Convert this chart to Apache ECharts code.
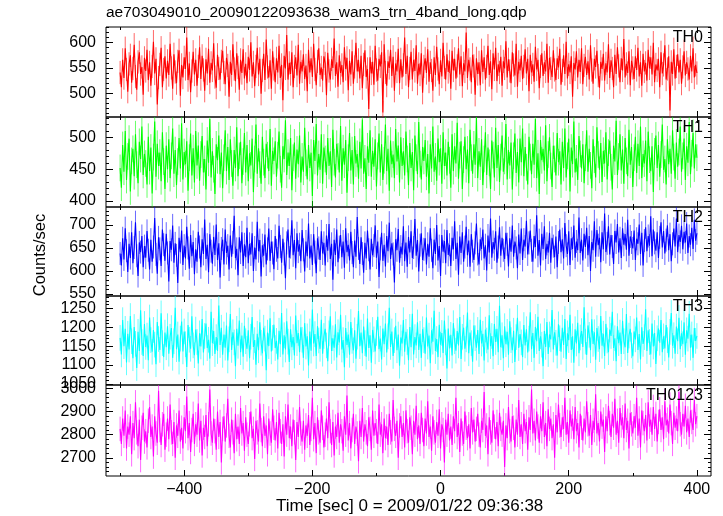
<!DOCTYPE html>
<html>
<head>
<meta charset="utf-8">
<script src="https://cdn.jsdelivr.net/npm/echarts@6/dist/echarts.min.js"></script>
<style>html,body{margin:0;padding:0;background:#fff;}#c{width:723px;height:516px;}</style>
</head>
<body>
<div id="c"></div>
<script>
// ---- data ----
const title = 'ae703049010_20090122093638_wam3_trn_4band_long.qdp';
const xLabel = 'Time [sec] 0 = 2009/01/22 09:36:38';
const yLabel = 'Counts/sec';
const bands = ['TH0', 'TH1', 'TH2', 'TH3', 'TH0123'];
const colors = ['#ff0000', '#00ff00', '#0000ff', '#00ffff', '#ff00ff'];
const timeStart = -500, timeStep = 2; // bin start and width (sec)
const errors = [23, 21, 25, 34, 53];   // typical 1-sigma error per band

const th0 = [
541,512,566,530,589,547,503,558,575,521,549,596,533,507,562,581,538,552,497,570,
544,586,526,561,515,553,602,539,568,478,531,557,590,512,547,573,529,564,536,598,
550,509,577,542,520,563,585,495,556,531,571,548,610,526,559,502,544,582,537,566,
515,553,591,528,574,546,505,567,539,588,521,560,545,599,532,511,576,549,527,563,
584,541,518,570,555,493,562,536,597,548,524,579,551,507,566,540,587,529,558,520,
572,546,601,533,561,514,553,590,537,568,499,545,578,526,606,552,531,565,509,583,
548,522,569,541,594,530,556,486,574,549,615,527,560,538,581,512,553,571,535,596,
519,562,543,577,528,555,504,586,541,569,532,598,547,516,563,589,536,551,525,573,
559,496,580,544,527,567,550,608,534,561,513,575,540,556,522,591,548,570,506,564,
537,583,519,552,600,543,566,529,574,510,557,585,532,548,469,571,539,562,517,594,
546,525,568,553,581,462,597,541,515,563,550,586,534,572,505,559,543,588,520,567,
531,556,610,538,574,512,549,582,527,566,544,595,519,558,537,579,501,553,569,540,
587,523,561,545,505,571,536,592,548,518,565,533,600,551,527,577,542,563,509,584,
545,568,529,554,589,537,573,514,559,543,620,530,566,548,522,576,554,497,569,538,
561,516,585,542,571,527,553,594,536,563,508,579,547,590,524,557,541,572,515,563,
549,603,531,567,544,520,581,556,535,598,513,562,545,574,528,553,587,539,568,504,
576,541,557,523,592,547,566,510,553,579,534,561,543,598,521,570,549,532,585,546,
526,569,551,588,517,545,575,538,602,529,557,541,573,493,560,547,583,531,566,542,
589,518,555,572,536,563,527,595,546,519,568,552,584,535,511,562,548,578,525,559,
541,597,530,565,549,512,576,538,591,554,522,569,545,607,531,558,540,583,516,564,
550,528,573,546,590,533,561,515,578,543,560,525,586,549,571,537,600,522,557,545,
568,512,581,539,556,595,527,548,573,466,562,538,587,529,553,577,541,566,519,552,
583,535,561,548,527,574,543,589,531,556,540];

const th1 = [
452,421,488,446,510,433,470,498,415,463,482,439,505,457,428,493,466,517,441,474,
459,426,501,447,484,412,469,525,438,490,455,476,431,508,462,419,487,450,497,436,
471,514,443,480,425,462,499,451,522,434,477,458,494,416,468,506,440,483,429,510,
456,487,432,473,502,445,466,418,495,460,529,437,478,450,411,489,464,503,442,476,
420,468,511,447,485,433,497,459,424,480,452,516,439,471,493,428,462,507,445,488,
431,475,456,498,414,466,520,443,483,457,427,501,461,436,490,472,447,513,424,479,
463,494,438,472,509,450,421,486,466,527,441,476,455,499,417,468,492,435,481,458,
503,429,470,446,515,460,434,488,452,476,408,496,463,521,440,474,449,505,427,484,
466,441,499,455,478,422,512,461,437,490,470,445,518,432,483,457,496,413,468,507,
448,480,426,502,459,474,435,493,451,528,443,467,419,486,460,511,438,479,454,497,
423,471,506,445,489,433,464,520,447,482,416,495,458,473,436,513,462,487,429,500,
455,478,440,509,466,425,491,452,477,417,503,468,442,524,458,434,485,463,496,438,
474,412,489,451,517,446,470,432,498,461,483,427,508,455,476,440,493,464,421,505,
447,486,459,523,435,472,494,419,465,501,450,481,428,512,468,443,489,457,531,436,
478,454,497,425,466,508,441,484,460,419,495,472,437,515,452,488,430,469,503,446,
463,521,434,480,456,492,418,471,506,444,477,429,498,461,514,439,485,453,426,501,
469,442,490,457,529,436,475,411,496,464,482,448,519,431,473,500,455,422,487,466,
440,507,461,478,426,493,452,514,437,471,498,415,484,458,525,445,467,433,502,474,
451,489,428,468,511,446,482,456,420,497,465,437,516,473,449,491,430,479,459,508,
434,476,495,453,418,487,462,526,441,470,505,448,481,427,499,463,439,512,457,485,
422,468,501,444,490,455,517,436,474,459,495,431,509,465,447,486,414,478,503,452,
488,438,473,520,449,466,426,497,458,482,443,511,469,435,492,454,477,517,446,471,
498,433,486,460,524,442,475,507,451,489,468];

const th2 = [
638,612,671,625,693,644,598,659,628,684,617,651,706,633,589,662,641,676,608,654,
629,687,645,603,668,620,652,715,636,594,673,648,611,690,657,622,681,639,577,665,
646,699,618,660,634,574,672,641,688,613,655,627,696,650,605,678,632,663,593,647,
620,685,652,608,669,637,712,626,657,597,680,643,616,674,635,701,624,660,586,649,
668,614,690,639,655,603,677,631,662,720,628,648,591,673,640,684,611,658,630,694,
617,659,636,682,600,651,625,707,643,667,588,656,633,679,614,648,692,622,664,639,
604,676,645,627,698,653,618,670,637,584,661,690,629,652,710,634,667,606,682,642,
658,621,689,646,599,664,632,703,627,655,613,680,641,595,671,650,624,686,638,661,
612,677,644,702,626,659,581,668,635,690,619,652,678,630,664,607,693,641,657,623,
685,640,608,666,631,717,649,615,673,638,596,661,627,688,646,603,670,634,655,699,
629,664,587,648,683,622,657,610,676,643,705,626,660,637,575,669,645,691,618,653,
636,697,621,662,609,674,640,686,628,651,713,633,667,599,656,682,624,647,671,614,
659,631,693,645,606,668,637,700,623,654,589,678,642,665,617,689,635,657,611,672,
647,708,626,661,592,675,639,684,620,652,696,634,666,609,680,643,624,661,703,637,
614,669,648,690,627,656,601,677,640,714,629,663,647,686,618,652,695,633,672,645,
626,683,658,610,671,642,699,631,664,650,606,679,638,692,624,668,653,709,636,661,
688,645,620,676,652,721,633,667,612,681,648,697,626,659,640,683,618,672,654,630,
675,608,662,690,641,669,627,704,655,637,686,613,671,648,699,629,664,645,716,639,
668,623,681,652,694,634,676,600,663,645,708,631,689,656,672,619,684,647,725,641,
660,697,636,678,653,615,687,662,702,640,671,628,693,657,680,646,711,633,675,662,
649,688,624,670,659,701,637,683,612,666,695,643,676,655,719,632,690,661,644,684,
628,673,706,651,687,638,667,699,645,680,621,659,692,653,714,641,678,663,698,647,
685,662,703,639,676,657,694,648,711,666,682];

const th3 = [
1172,1128,1219,1150,1196,1107,1183,1141,1230,1163,1118,1201,1156,1092,1188,1137,1245,1161,1124,1209,
1148,1178,1113,1226,1166,1135,1193,1154,1102,1214,1169,1140,1237,1158,1121,1186,1147,1203,1130,1175,
1198,1119,1163,1252,1142,1181,1109,1170,1215,1136,1189,1155,1095,1206,1167,1143,1229,1152,1126,1194,
1161,1104,1184,1149,1222,1133,1177,1210,1145,1167,1117,1241,1158,1190,1129,1174,1137,1258,1153,1199,
1127,1181,1146,1205,1112,1168,1235,1140,1187,1160,1097,1196,1151,1218,1134,1178,1122,1204,1163,1143,
1192,1118,1175,1227,1148,1166,1101,1183,1139,1213,1159,1131,1199,1170,1086,1186,1150,1224,1136,1172,
1207,1145,1164,1115,1191,1155,1238,1128,1179,1141,1216,1162,1108,1195,1147,1174,1125,1231,1158,1185,
1134,1200,1167,1119,1211,1149,1176,1099,1189,1138,1247,1157,1182,1124,1203,1165,1143,1220,1130,1177,
1196,1152,1110,1184,1229,1137,1171,1146,1208,1120,1187,1160,1233,1141,1166,1094,1198,1153,1181,1127,
1214,1164,1139,1192,1117,1175,1243,1150,1186,1131,1202,1158,1122,1223,1145,1179,1106,1193,1168,1136,
1185,1228,1142,1170,1115,1197,1155,1210,1133,1176,1252,1148,1189,1124,1166,1204,1139,1181,1098,1173,
1157,1219,1135,1188,1161,1113,1201,1147,1236,1128,1174,1152,1213,1140,1183,1119,1195,1166,1130,1226,
1149,1178,1105,1192,1162,1244,1137,1169,1121,1207,1154,1185,1132,1218,1160,1091,1197,1144,1180,1125,
1211,1163,1138,1190,1152,1227,1116,1175,1199,1143,1168,1239,1131,1186,1158,1109,1205,1171,1146,1193,
1129,1220,1157,1183,1112,1194,1165,1141,1232,1150,1177,1123,1209,1161,1196,1134,1257,1147,1179,1118,
1203,1155,1188,1127,1216,1166,1139,1191,1108,1174,1225,1145,1182,1160,1121,1206,1152,1195,1133,1170,
1240,1142,1185,1119,1201,1163,1228,1137,1176,1154,1097,1190,1148,1214,1129,1181,1168,1246,1141,1187,
1159,1125,1208,1171,1135,1199,1153,1222,1116,1184,1166,1233,1140,1176,1106,1195,1157,1212,1131,1173,
1190,1148,1253,1162,1127,1205,1180,1139,1221,1156,1187,1114,1198,1169,1142,1230,1151,1183,1124,1209,
1165,1134,1194,1177,1241,1145,1171,1110,1203,1158,1186,1129,1217,1163,1147,1235,1132,1178,1196,1152,
1123,1189,1168,1226,1140,1182,1115,1200,1156,1174,1248,1137,1192,1161,1128,1210,1149,1185,1103,1171,
1197,1159,1219,1134,1176,1144,1206,1166,1120,1188,1238,1151,1179,1130,1202,1163,1225,1142,1184,1155,
1213,1127,1192,1170,1236,1146,1181,1119,1198,1164,1177];

const th0123 = [
2825,2760,2870,2795,2905,2740,2835,2800,2880,2715,2850,2785,2940,2810,2750,2865,2690,2830,2895,2770,
2815,2745,2860,2920,2790,2835,2705,2880,2805,2765,2990,2820,2755,2845,2890,2735,2800,2870,2780,2930,
2810,2760,2855,2700,2840,2795,2905,2770,2830,2740,2875,2815,2965,2785,2850,2725,2820,2890,2760,2845,
2800,2935,2775,2860,2710,2830,2790,2885,2750,2845,2995,2805,2765,2870,2815,2735,2900,2790,2855,2680,
2825,2880,2770,2840,2955,2795,2745,2865,2810,2720,2890,2780,2835,2760,2915,2805,2850,2730,2875,2800,
2760,2845,2900,2785,2825,2695,2860,2810,2770,2935,2820,2750,2880,2795,2840,2715,2870,2805,2765,2910,
2830,2775,2855,2740,2895,2815,2760,2845,2705,2880,2800,2930,2785,2835,2750,2865,2810,2690,2855,2790,
2920,2805,2770,2860,2735,2840,2795,2885,2755,2825,2960,2780,2850,2720,2875,2810,2765,2905,2830,2745,
2800,2870,2785,2940,2815,2755,2855,2710,2835,2790,2895,2765,2845,2815,2730,2880,2800,2970,2775,2850,
2740,2820,2890,2760,2835,2805,2685,2860,2790,2915,2770,2845,2810,2750,2875,2825,2735,2905,2795,2850,
2815,2760,2930,2800,2845,2720,2870,2785,2835,2755,2890,2810,2770,2950,2825,2795,2860,2700,2840,2880,
2790,2850,2745,2905,2815,2765,2875,2830,2715,2860,2800,2925,2780,2840,2760,2895,2820,2750,2870,2805,
2945,2790,2835,2730,2880,2810,2765,2855,2795,2910,2740,2845,2820,2680,2865,2800,2890,2775,2835,2755,
2880,2815,2960,2790,2850,2725,2870,2805,2760,2900,2830,2785,2845,2740,2915,2810,2865,2770,2825,2890,
2800,2745,2860,2820,2985,2795,2840,2715,2875,2810,2765,2905,2835,2780,2855,2750,2895,2825,2800,2860,
2660,2840,2785,2920,2815,2770,2880,2830,2745,2865,2800,2950,2790,2845,2760,2890,2815,2855,2735,2875,
2820,2995,2805,2860,2775,2900,2835,2765,2880,2815,2940,2790,2850,2750,2910,2825,2870,2785,2845,2700,
2885,2810,2930,2840,2790,2875,2825,2960,2800,2855,2765,2905,2835,2870,2780,2920,2815,2850,2745,2890,
2830,2775,2870,2810,2945,2845,2795,2885,2755,2860,2820,2975,2805,2850,2770,2900,2835,2865,2725,2880,
2815,2925,2850,2790,2890,2830,2955,2800,2860,2765,2915,2840,2875,2785,2935,2820,2860,2740,2895,2845,
2805,2880,2830,2960,2795,2870,2745,2905,2850,2815,2885,2775,2940,2835,2865,2800,2920,2825,2890,2770,
2855,2910,2820,2875,2780,2945,2840,2865,2805,2930,2850,2760,2895,2830,2870,2815,2985,2845,2800,2890,
2835,2925,2810,2870,2790,2905,2855,2820,2950,2845,2880];

const seriesValues = [th0, th1, th2, th3, th0123];

// tick labels
const xTicksMajor = [-400, -200, 0, 200, 400];
const xTicksMinor = [-500, -300, -100, 100, 300];
const yTicksMajor = [
  [500, 550, 600],
  [400, 450, 500],
  [550, 600, 650, 700],
  [1050, 1100, 1150, 1200, 1250],
  [2700, 2800, 2900, 3000]
];
const yMinorStep = [10, 10, 10, 10, 20];
const yRanges = [[453, 631], [390.6, 532], [545.6, 739], [1047, 1283], [2621, 3015]];

// ---- layout ----
const panelTops = [27, 117, 207, 296, 385];
const panelHeights = [90, 90, 89, 89, 91];
const plotLeft = 106, plotRight = 12;
const FONT = '"Liberation Sans", Arial, Helvetica, sans-serif';
const minus = v => String(v).replace('-', '\u2212');

const grids = [], xAxes = [], yAxes = [], series = [], graphics = [];

panelTops.forEach((top, i) => {
  grids.push({left: plotLeft, right: plotRight, top: top, height: panelHeights[i],
    show: true, borderColor: '#000', borderWidth: 1, backgroundColor: 'transparent'});

  const xBase = xAxes.length;
  [['bottom', xTicksMajor, 6, true], ['bottom', xTicksMinor, 3, false],
   ['top', xTicksMajor, 6, false], ['top', xTicksMinor, 3, false]].forEach(([pos, vals, len, lab]) => {
    xAxes.push({
      type: 'value', gridIndex: i, position: pos, min: -522, max: 422,
      axisLine: {show: false, onZero: false}, splitLine: {show: false},
      axisTick: {show: true, inside: true, length: len, customValues: vals,
                 lineStyle: {color: '#000', width: 1}},
      axisLabel: {show: lab && i === 4, customValues: vals, margin: 6,
                  color: '#000', fontSize: 16, fontFamily: FONT, formatter: minus}
    });
  });

  const yMin = yRanges[i][0], yMax = yRanges[i][1];
  const minor = [];
  const step = yMinorStep[i];
  for (let v = Math.ceil(yMin / step) * step; v <= yMax; v += step) minor.push(v);

  const yBase = yAxes.length;
  [['left', yTicksMajor[i], 7, true], ['left', minor, 3, false],
   ['right', yTicksMajor[i], 7, false], ['right', minor, 3, false]].forEach(([pos, vals, len, lab]) => {
    yAxes.push({
      type: 'value', gridIndex: i, position: pos, min: yMin, max: yMax,
      axisLine: {show: false, onZero: false}, splitLine: {show: false},
      axisTick: {show: true, inside: true, length: len, customValues: vals,
                 lineStyle: {color: '#000', width: 1}},
      axisLabel: {show: lab, customValues: vals, margin: 10, showMinLabel: true, showMaxLabel: true,
                  color: '#000', fontSize: 16, fontFamily: FONT, formatter: v => String(v)}
    });
  });

  const vals = seriesValues[i];
  const err = errors[i];
  const pts = vals.map((v, j) => [timeStart + j * timeStep, v]);
  const errPts = vals.map((v, j) => [timeStart + j * timeStep, v, err]);
  const col = colors[i];

  series.push({
    type: 'custom', name: bands[i] + ' err', xAxisIndex: xBase, yAxisIndex: yBase,
    data: errPts, clip: true, z: 1, silent: true,
    dimensions: ['t', 'v', 'e'],
    encode: {x: 0, y: 1},
    renderItem: function (params, api) {
      const x = api.value(0), y = api.value(1), e = api.value(2);
      const p1 = api.coord([x, y - e]), p2 = api.coord([x, y + e]);
      return {type: 'line', shape: {x1: p1[0], y1: p1[1], x2: p2[0], y2: p2[1]},
              style: {stroke: col, lineWidth: 1, opacity: 0.6}};
    }
  });
  series.push({
    type: 'line', name: bands[i], xAxisIndex: xBase, yAxisIndex: yBase,
    data: pts, showSymbol: false, symbol: 'none', z: 2, silent: true,
    lineStyle: {color: col, width: 1.1}, clip: true
  });

  graphics.push({type: 'text', right: 723 - 703, top: top + 3, z: 100,
    style: {text: bands[i], font: '16px ' + FONT, fill: '#000'}});
});

graphics.push({type: 'text', left: plotLeft, top: 5,
  style: {text: title, font: '15.5px ' + FONT, fill: '#000'}});
graphics.push({type: 'text', left: 276, top: 498, z: 100,
  style: {text: xLabel, font: '17px ' + FONT, fill: '#000'}});
graphics.push({type: 'text', x: 40, y: 255, rotation: Math.PI / 2,
  style: {text: yLabel, font: '16.5px ' + FONT, fill: '#000', align: 'center', verticalAlign: 'middle',
          textAlign: 'center', textVerticalAlign: 'middle'}});

const chart = echarts.init(document.getElementById('c'), null, {renderer: 'canvas'});
chart.setOption({
  animation: false,
  backgroundColor: '#fff',
  grid: grids, xAxis: xAxes, yAxis: yAxes, series: series, graphic: graphics
});
</script>
</body>
</html>
